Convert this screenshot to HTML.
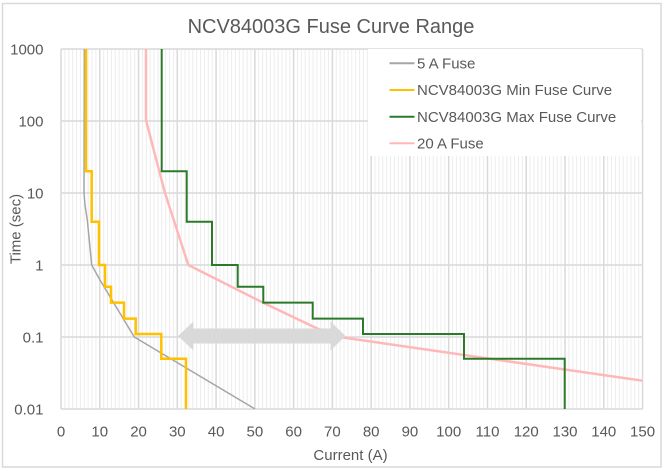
<!DOCTYPE html>
<html>
<head>
<meta charset="utf-8">
<style>
html,body{margin:0;padding:0;background:#fff;}
svg{display:block;}
text{font-family:"Liberation Sans",sans-serif;fill:#595959;}
</style>
</head>
<body>
<svg width="666" height="471" viewBox="0 0 666 471" xmlns="http://www.w3.org/2000/svg">
<rect x="0" y="0" width="666" height="471" fill="#fff"/>
<rect x="2.5" y="3.5" width="658.5" height="463.5" fill="#fff" stroke="#D9D9D9" stroke-width="1.5"/>

<!-- minor vertical gridlines -->
<g id="minor" stroke="#EDEDED" stroke-width="1"></g>
<!-- major gridlines -->
<g id="major" stroke="#D9D9D9" stroke-width="1.5"></g>

<!-- legend background -->
<rect x="368" y="49" width="273" height="107" fill="#fff"/>

<!-- series -->
<polyline fill="none" stroke="#FFB8B8" stroke-width="2.5" stroke-linejoin="round"
 points="146,49 146,120 155,155 165,193 188.3,265 261.7,302 316.7,328.3 343,337.5 642.3,380.7"/>
<polyline fill="none" stroke="#A6A6A6" stroke-width="1.5" stroke-linejoin="round"
 points="84.3,49 84,193 85,205 87.3,220 91.7,265 100,280 112,300 134.3,337 255,409"/>
<polyline fill="none" stroke="#FFC000" stroke-width="2.5"
 points="86,49 86,171.3 91.7,171.3 91.7,221.7 99,221.7 99,265 105,265 105,286.7 111,286.7 111,302.6 124,302.6 124,318.6 135.7,318.6 135.7,334 161.3,334 161.3,358.7 186,358.7 186,409"/>
<polyline fill="none" stroke="#2B7A2B" stroke-width="2"
 points="161.7,49 161.7,171.3 186.7,171.3 186.7,221.7 212,221.7 212,265 237.7,265 237.7,286.7 263.3,286.7 263.3,302.6 312.7,302.6 312.7,318.6 363,318.6 363,334 464,334 464,358.7 564.7,358.7 564.7,409"/>

<!-- arrow -->
<polygon fill="#D9D9D9" points="178,336 193.5,321.5 193.5,328.5 330.5,328.5 330.5,321.5 345.5,336 330.5,350.5 330.5,343.5 193.5,343.5 193.5,350.5"/>

<!-- title -->
<text x="331" y="33" font-size="20" text-anchor="middle">NCV84003G Fuse Curve Range</text>

<!-- y tick labels -->
<g font-size="15" text-anchor="end">
<text x="43.5" y="54.5">1000</text>
<text x="43.5" y="126.5">100</text>
<text x="43.5" y="198.5">10</text>
<text x="43.5" y="270.5">1</text>
<text x="43.5" y="342.5">0.1</text>
<text x="43.5" y="414.5">0.01</text>
</g>

<!-- x tick labels -->
<g font-size="15" text-anchor="middle" id="xl"></g>

<!-- axis titles -->
<text x="350.5" y="460" font-size="15" text-anchor="middle">Current (A)</text>
<text transform="translate(20.5,229) rotate(-90)" font-size="15" text-anchor="middle">Time (sec)</text>

<!-- legend -->
<g stroke-width="2">
<line x1="389.5" y1="63.3" x2="414.5" y2="63.3" stroke="#A6A6A6"/>
<line x1="389.5" y1="90" x2="414.5" y2="90" stroke="#FFC000"/>
<line x1="389.5" y1="116.7" x2="414.5" y2="116.7" stroke="#2B7A2B"/>
<line x1="389.5" y1="143.3" x2="414.5" y2="143.3" stroke="#FFB8B8"/>
</g>
<g font-size="15">
<text x="417" y="68.5">5 A Fuse</text>
<text x="417" y="95.2">NCV84003G Min Fuse Curve</text>
<text x="417" y="121.9">NCV84003G Max Fuse Curve</text>
<text x="417" y="148.5">20 A Fuse</text>
</g>

<script>
(function(){
  var ns="http://www.w3.org/2000/svg";
  var X=function(a){return 61+a*3.877;};
  var minor=document.getElementById('minor');
  var major=document.getElementById('major');
  var xl=document.getElementById('xl');
  for(var i=1;i<150;i++){
    if(i%10===0) continue;
    var l=document.createElementNS(ns,'line');
    var x=X(i);
    l.setAttribute('x1',x);l.setAttribute('x2',x);
    l.setAttribute('y1',49);l.setAttribute('y2',409);
    minor.appendChild(l);
  }
  for(var i=0;i<=150;i+=10){
    var l=document.createElementNS(ns,'line');
    var x=X(i);
    l.setAttribute('x1',x);l.setAttribute('x2',x);
    l.setAttribute('y1',49);l.setAttribute('y2',409);
    major.appendChild(l);
    var t=document.createElementNS(ns,'text');
    t.setAttribute('x',x);t.setAttribute('y',436.5);
    t.textContent=String(i);
    xl.appendChild(t);
  }
  for(var k=0;k<=5;k++){
    var l=document.createElementNS(ns,'line');
    var y=49+72*k;
    l.setAttribute('x1',61);l.setAttribute('x2',642.5);
    l.setAttribute('y1',y);l.setAttribute('y2',y);
    major.appendChild(l);
  }
})();
</script>
</svg>
</body>
</html>
